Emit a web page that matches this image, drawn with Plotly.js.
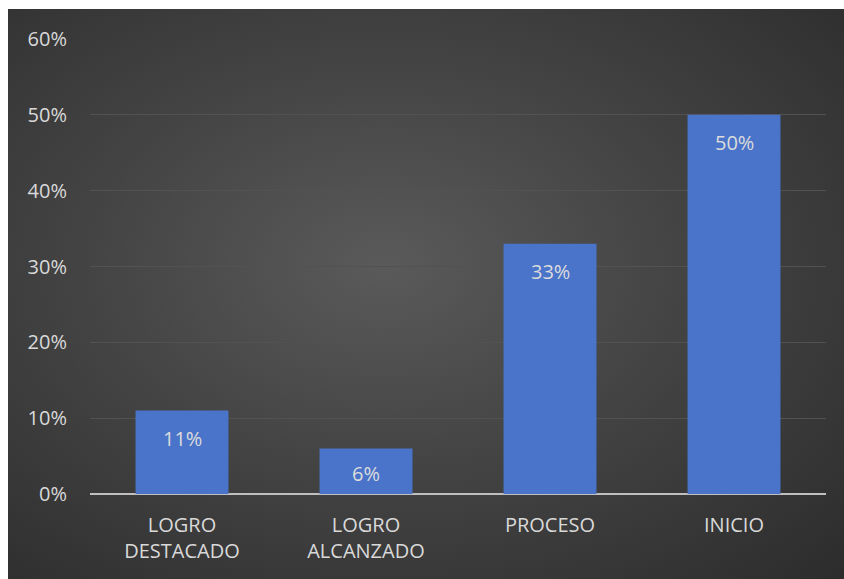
<!DOCTYPE html>
<html>
<head>
<meta charset="utf-8">
<script src="https://cdn.plot.ly/plotly-3.0.1.min.js"></script>
<style>
  html, body { margin: 0; padding: 0; background: #ffffff; }
  #chart {
    position: absolute; left: 8px; top: 9px; width: 836px; height: 570px;
    background: radial-gradient(ellipse at 45% 45%, #5a5a5a 0%, #444444 45%, #2c2c2c 100%);
  }
</style>
</head>
<body>
<div id="chart"></div>
<script>
const categories = ["LOGRO<br>DESTACADO", "LOGRO<br>ALCANZADO", "PROCESO", "INICIO"];
const values = [0.11, 0.06, 0.33, 0.50];
const labels = ["11%", "6%", "33%", "50%"];
const yTickVals = [0, 0.1, 0.2, 0.3, 0.4, 0.5, 0.6];
const yTickText = ["0%", "10%", "20%", "30%", "40%", "50%", "60%"];

const font = "'Open Sans', 'Noto Sans', sans-serif";
const yMax = 0.6;
const plotH = 570 - 30 - 85;

const trace = {
  type: "bar",
  x: categories,
  y: values,
  marker: { color: "#4a74c9", line: { width: 0 } },
  hoverinfo: "none"
};

// Excel "inside end" labels: clamp inside short bars
const annotations = categories.map((c, i) => {
  const barPx = values[i] / yMax * plotH;
  const pad = Math.min(12, Math.max(0, (barPx - 27) / 2));
  return {
    x: c, y: values[i], xref: "x", yref: "y",
    text: labels[i], showarrow: false,
    yanchor: "top", yshift: -pad,
    font: { family: font, size: 20, color: "#dcdcdc" }
  };
});

const layout = {
  width: 836, height: 570,
  paper_bgcolor: "rgba(0,0,0,0)",
  plot_bgcolor: "rgba(0,0,0,0)",
  margin: { l: 82, r: 18, t: 30, b: 85 },
  showlegend: false,
  bargap: 0.495,
  font: { family: font, size: 20, color: "#d9d9d9" },
  xaxis: {
    type: "category",
    showgrid: false, showline: false, zeroline: false,
    ticks: "", tickfont: { family: font, size: 20, color: "#d9d9d9" },
    ticklabelstandoff: 17,
    fixedrange: true
  },
  yaxis: {
    range: [0, yMax],
    tickvals: yTickVals, ticktext: yTickText,
    showgrid: true, gridcolor: "#525252", gridwidth: 1,
    zeroline: true, zerolinecolor: "#bfbfbf", zerolinewidth: 2,
    showline: false, ticks: "",
    ticklabelstandoff: 22,
    tickfont: { family: font, size: 20, color: "#d9d9d9" },
    fixedrange: true
  },
  annotations: annotations
};

Plotly.newPlot("chart", [trace], layout, { displayModeBar: false, staticPlot: true });
</script>
</body>
</html>
